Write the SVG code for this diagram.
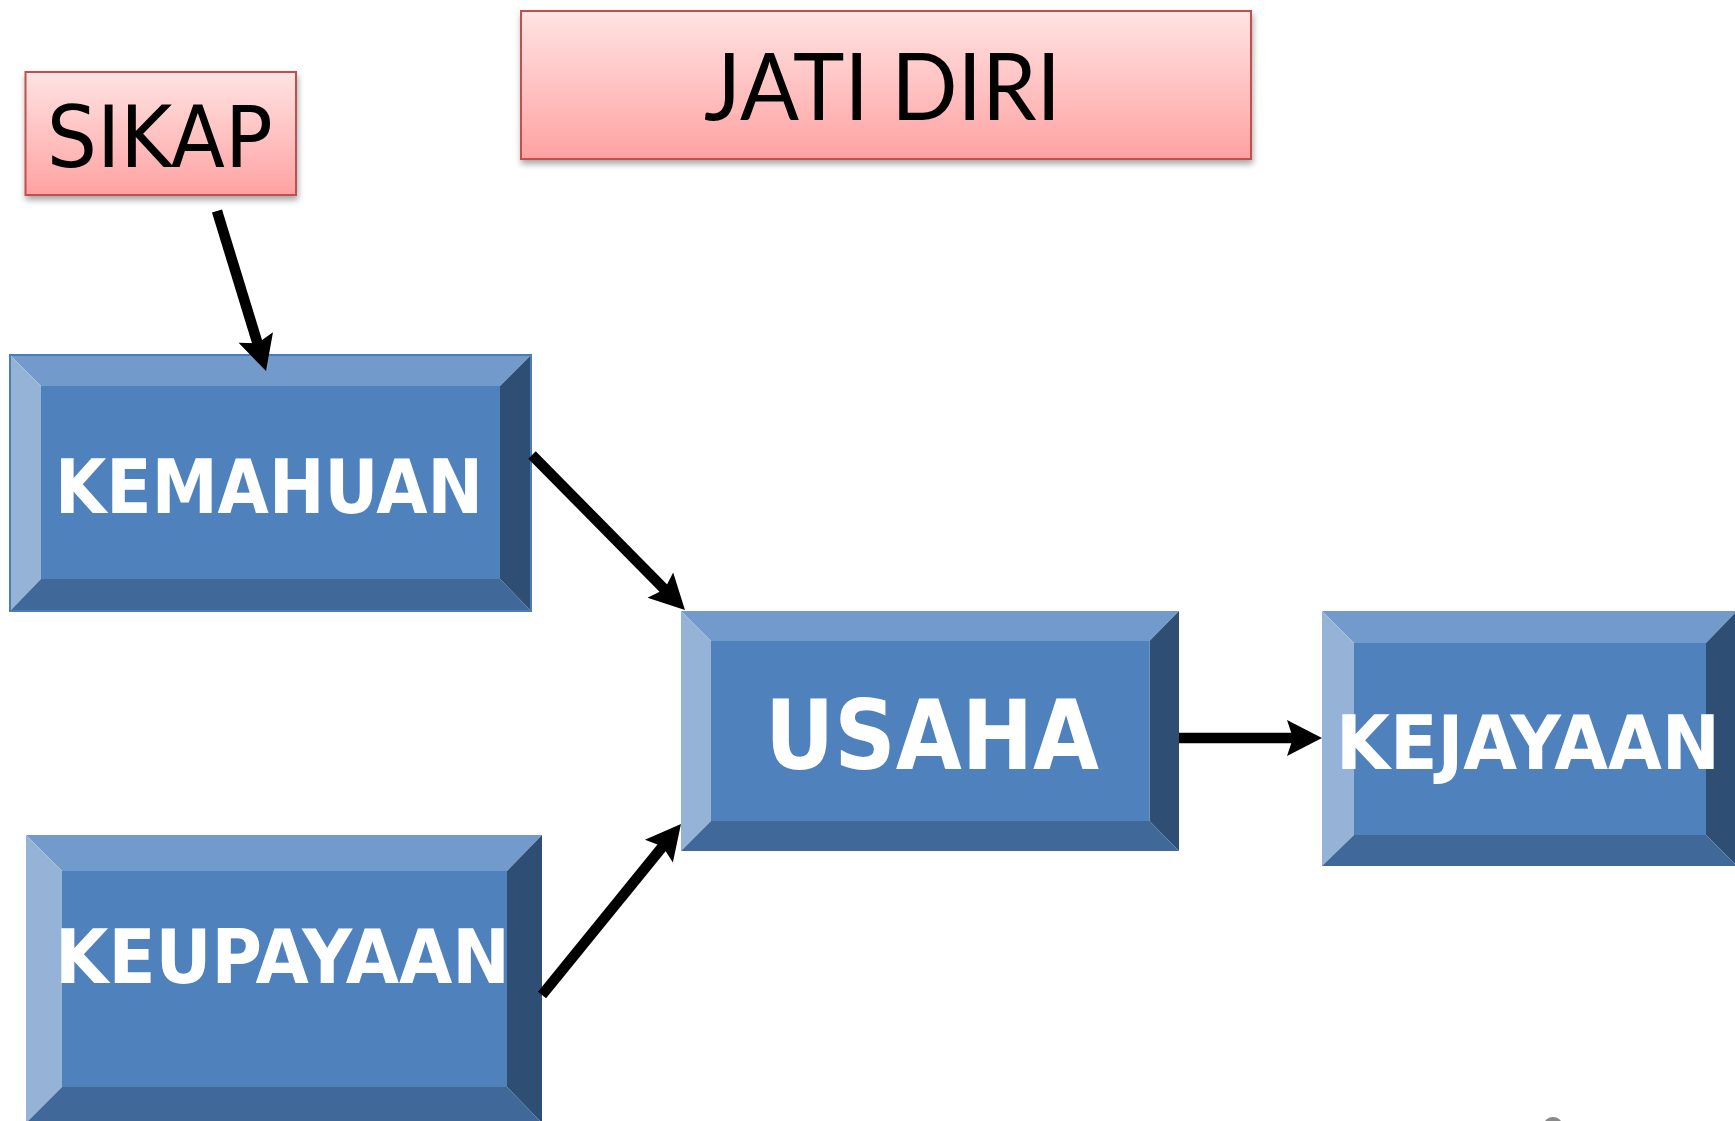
<svg xmlns="http://www.w3.org/2000/svg" width="1735" height="1121" viewBox="0 0 1735 1121">
<style>
.pink{fill:url(#pinkGrad);stroke:#C0504D;stroke-width:2;filter:url(#shadow)}
.bt{fill:#729ACA}.bl{fill:#95B3D7}.br{fill:#2F4E74}.bb{fill:#406898}.bc{fill:#4F81BD}
.lbl{font-family:"DejaVu Sans",Verdana,sans-serif;font-weight:bold;fill:#FFFFFF}
.conn{stroke:#000;stroke-width:10.5;fill:none;marker-end:url(#arr)}
</style>
<defs>
<linearGradient id="pinkGrad" x1="0" y1="0" x2="0" y2="1">
<stop offset="0" stop-color="#FFE3E3"/>
<stop offset="1" stop-color="#FFA2A2"/>
</linearGradient>
<filter id="shadow" x="-10%" y="-10%" width="120%" height="130%">
<feDropShadow dx="1" dy="4" stdDeviation="3" flood-color="#000" flood-opacity="0.35"/>
</filter>
<marker id="arr" markerUnits="userSpaceOnUse" viewBox="-12 -20 40 40" markerWidth="40" markerHeight="40" refX="0" refY="0" orient="auto" overflow="visible">
<path d="M25,0 L-10,-18 L-4,0 L-10,18 Z" fill="#000"/>
</marker>
</defs>
<rect width="1735" height="1121" fill="#FFFFFF"/>

<g id="sikap">
<rect class="pink" x="25.5" y="72" width="270.5" height="123"/>
<text x="46.7" y="167" font-family="'DejaVu Sans',Verdana,sans-serif" font-size="86" fill="#000" textLength="226" lengthAdjust="spacingAndGlyphs">SIKAP</text>
</g>

<g id="jati-diri">
<rect class="pink" x="521" y="11" width="730" height="148"/>
<text x="704" y="120" font-family="Lato,'Open Sans',sans-serif" font-size="93" fill="#000" textLength="357" lengthAdjust="spacingAndGlyphs">JATI DIRI</text>
</g>

<g id="kemahuan">
<polygon class="bt" points="10,355 531,355 500,386 41,386"/>
<polygon class="bl" points="10,355 41,386 41,579 10,611"/>
<polygon class="br" points="531,355 531,611 500,579 500,386"/>
<polygon class="bb" points="10,611 41,579 500,579 531,611"/>
<rect class="bc" x="41" y="386" width="459" height="193"/>
<rect x="10" y="355" width="521" height="256" fill="none" stroke="#4A7EBB" stroke-width="2"/>
<text class="lbl" x="55" y="513" font-size="75" textLength="428" lengthAdjust="spacingAndGlyphs">KEMAHUAN</text>
</g>

<g id="usaha">
<polygon class="bt" points="681,611 1179,611 1149.5,641 711,641"/>
<polygon class="bl" points="681,611 711,641 711,821 681,851"/>
<polygon class="br" points="1179,611 1179,851 1149.5,821 1149.5,641"/>
<polygon class="bb" points="681,851 711,821 1149.5,821 1179,851"/>
<rect class="bc" x="711" y="641" width="438.5" height="180"/>
<text class="lbl" x="765" y="769" font-size="96" textLength="334" lengthAdjust="spacingAndGlyphs">USAHA</text>
</g>

<g id="kejayaan">
<polygon class="bt" points="1322,611 1737,611 1706,643 1354,643"/>
<polygon class="bl" points="1322,611 1354,643 1354,835 1322,866"/>
<polygon class="br" points="1737,611 1737,866 1706,835 1706,643"/>
<polygon class="bb" points="1322,866 1354,835 1706,835 1737,866"/>
<rect class="bc" x="1354" y="643" width="352" height="192"/>
<text class="lbl" x="1336" y="769" font-size="75" textLength="384" lengthAdjust="spacingAndGlyphs">KEJAYAAN</text>
</g>

<g id="keupayaan">
<polygon class="bt" points="26,835 542,835 507,871 62,871"/>
<polygon class="bl" points="26,835 62,871 62,1087 26,1123"/>
<polygon class="br" points="542,835 542,1123 507,1087 507,871"/>
<polygon class="bb" points="26,1123 62,1087 507,1087 542,1123"/>
<rect class="bc" x="62" y="871" width="445" height="216"/>
<text class="lbl" x="55" y="983" font-size="75" textLength="455" lengthAdjust="spacingAndGlyphs">KEUPAYAAN</text>
</g>

<g id="connectors">
<line class="conn" x1="217" y1="211" x2="258.7" y2="347.1"/>
<line class="conn" x1="532" y1="455" x2="667.4" y2="592.2"/>
<line class="conn" x1="542" y1="995" x2="665.2" y2="843.4"/>
<line class="conn" x1="1179" y1="738" x2="1297" y2="738"/>
</g>

<ellipse cx="1553" cy="1125" rx="9" ry="8" fill="#8A8A8A"/>
</svg>
